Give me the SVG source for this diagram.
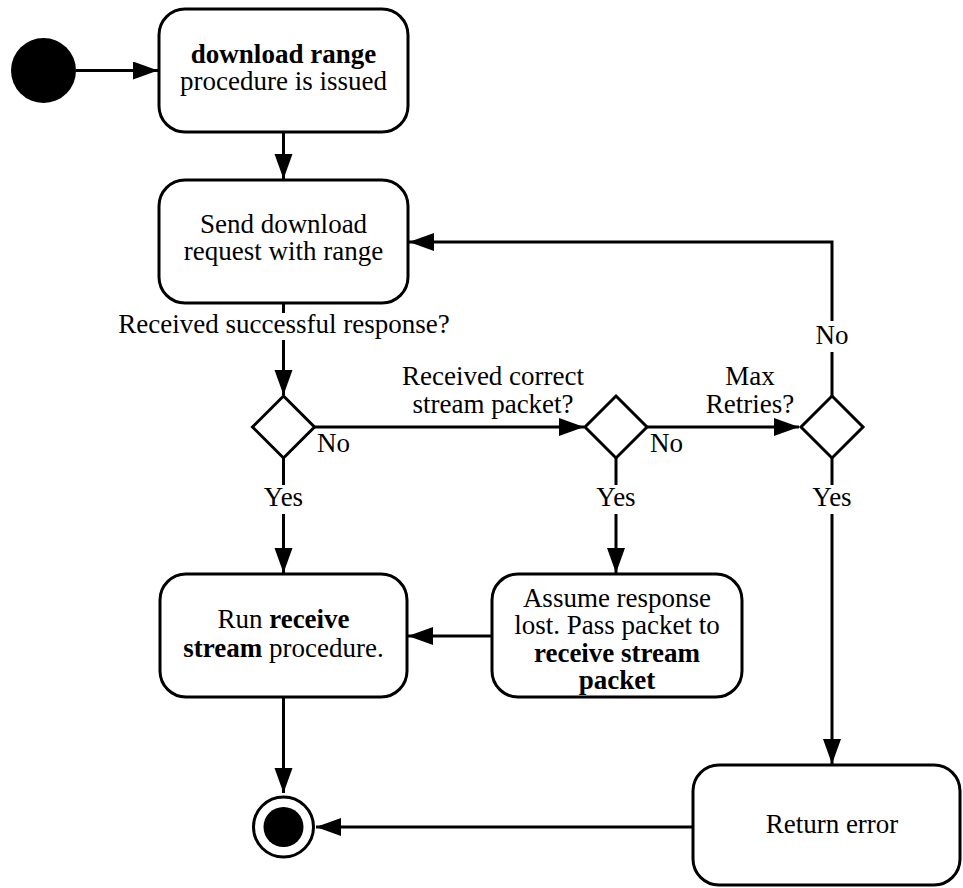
<svg xmlns="http://www.w3.org/2000/svg" width="963" height="888" viewBox="0 0 963 888">
  <style>
    text { font-family: "Liberation Serif", "Times New Roman", serif; font-size: 27px; fill: #000; }
    .c { text-anchor: middle; }
    .b { font-weight: bold; }
    .box { fill: #fff; stroke: #000; stroke-width: 3; }
    .dia { fill: #fff; stroke: #000; stroke-width: 3; stroke-linejoin: miter; }
    .edge { fill: none; stroke: #000; stroke-width: 3; }
  </style>
  <defs>
    <marker id="arrow" markerUnits="userSpaceOnUse" markerWidth="26" markerHeight="20" refX="25" refY="9" orient="auto">
      <path d="M0,0 L25,9 L0,18 Z" fill="#000"/>
    </marker>
  </defs>

  <rect width="963" height="888" fill="#fff"/>

  <!-- connectors and their guard labels -->
  <g id="connectors">
    <path class="edge" d="M76,70.5 H158" marker-end="url(#arrow)"/>
    <path class="edge" d="M283.5,132 V179" marker-end="url(#arrow)"/>
    <path class="edge" d="M283.5,303 V313"/>
    <path class="edge" d="M283.5,340 V395" marker-end="url(#arrow)"/>
    <path class="edge" d="M314,427 H584" marker-end="url(#arrow)"/>
    <path class="edge" d="M283.5,458 V485"/>
    <path class="edge" d="M283.5,514 V573" marker-end="url(#arrow)"/>
    <path class="edge" d="M647,427 H799" marker-end="url(#arrow)"/>
    <path class="edge" d="M616,458 V485"/>
    <path class="edge" d="M616,514 V573" marker-end="url(#arrow)"/>
    <path class="edge" d="M832,396 V352"/>
    <path class="edge" d="M832,321 V242 H409" marker-end="url(#arrow)"/>
    <path class="edge" d="M832,458 V485"/>
    <path class="edge" d="M832,514 V764" marker-end="url(#arrow)"/>
    <path class="edge" d="M492,636 H408" marker-end="url(#arrow)"/>
    <path class="edge" d="M283.5,697 V793" marker-end="url(#arrow)"/>
    <path class="edge" d="M693,827 H316" marker-end="url(#arrow)"/>

    <text class="c" x="284" y="333">Received successful response?</text>
    <text x="317" y="452">No</text>
    <text class="c" x="493" y="385">Received correct</text>
    <text class="c" x="493" y="413">stream packet?</text>
    <text class="c" x="283.5" y="506">Yes</text>
    <text x="650" y="452">No</text>
    <text class="c" x="750" y="385">Max</text>
    <text class="c" x="750" y="413">Retries?</text>
    <text class="c" x="616" y="506">Yes</text>
    <text class="c" x="832" y="344">No</text>
    <text class="c" x="832" y="506">Yes</text>
  </g>

  <g id="start">
    <circle cx="43.5" cy="70.5" r="32.5" fill="#000"/>
  </g>

  <g id="issue">
    <rect class="box" x="159" y="9" width="249" height="123" rx="26"/>
    <text class="c b" x="283.5" y="63">download range</text>
    <text class="c" x="283.5" y="90">procedure is issued</text>
  </g>

  <g id="send">
    <rect class="box" x="159" y="180" width="249" height="123" rx="26"/>
    <text class="c" x="283.5" y="233">Send download</text>
    <text class="c" x="283.5" y="260">request with range</text>
  </g>

  <g id="check-response">
    <polygon class="dia" points="283.5,396 314.5,427 283.5,458 252.5,427"/>
  </g>

  <g id="check-packet">
    <polygon class="dia" points="616,396 647,427 616,458 585,427"/>
  </g>

  <g id="check-retries">
    <polygon class="dia" points="832,396 863,427 832,458 801,427"/>
  </g>

  <g id="run-stream">
    <rect class="box" x="160" y="574" width="247" height="123" rx="26"/>
    <text class="c" x="283.5" y="628">Run <tspan class="b">receive</tspan></text>
    <text class="c" x="283.5" y="657"><tspan class="b">stream</tspan> procedure.</text>
  </g>

  <g id="assume-lost">
    <rect class="box" x="492" y="574" width="250" height="123" rx="26"/>
    <text class="c" x="617" y="607">Assume response</text>
    <text class="c" x="617" y="634">lost. Pass packet to</text>
    <text class="c b" x="617" y="662">receive stream</text>
    <text class="c b" x="617" y="689">packet</text>
  </g>

  <g id="return-error">
    <rect class="box" x="693" y="765" width="267" height="120" rx="26"/>
    <text class="c" x="832" y="833">Return error</text>
  </g>

  <g id="end">
    <circle cx="283.5" cy="827" r="30" fill="#fff" stroke="#000" stroke-width="3"/>
    <circle cx="283.5" cy="827" r="20" fill="#000"/>
  </g>
</svg>
